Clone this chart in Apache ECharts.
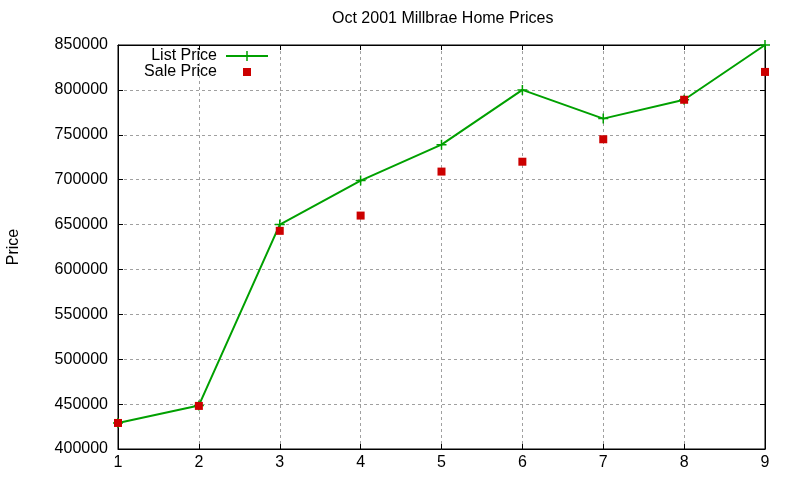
<!DOCTYPE html>
<html>
<head>
    <meta charset="utf-8">
    <title>Oct 2001 Millbrae Home Prices</title>
    <script src="https://cdn.jsdelivr.net/npm/echarts@6/dist/echarts.min.js"></script>
</head>
<body style="margin:0">
<div id="main" style="width: 800px;height:480px;"></div>
<script type="text/javascript">

    // house number 1..9, prices
    var houses = [1, 2, 3, 4, 5, 6, 7, 8, 9];
    var listPrice = [429000, 448500, 650000, 699000, 739000, 800000, 768000, 789000, 850000];
    var salePrice = [429000, 448000, 643000, 660000, 709000, 720000, 745000, 789000, 820000];

    var plusPath = 'path://M4.25,0h1.5v4.25h4.25v1.5h-4.25v4.25h-1.5v-4.25h-4.25v-1.5h4.25z';
    // legend sample: a 42px stroke with a plus in the middle
    var lineKeyPath = 'path://M0,4h42v2h-42z M20.25,0h1.5v10h-1.5z';
    var squarePath = 'path://M0,0h10v10h-10z';
    var font = 'Liberation Sans, Arial, sans-serif';

    function pairs(ys) {
        return houses.map(function (x, i) { return [x, ys[i]]; });
    }

    var gridLine = { show: true, lineStyle: { color: '#a0a0a0', type: [3, 3], width: 1 } };
    var tick = { show: true, inside: true, length: 5, lineStyle: { color: '#000' } };
    var plain = function (v) { return String(v); };

    var myChart = echarts.init(document.getElementById('main'));

    var option = {
        animation: false,
        backgroundColor: '#fff',
        title: {
            text: 'Oct 2001 Millbrae Home Prices',
            left: 332,
            top: 11,
            padding: 0,
            textStyle: { fontFamily: font, fontSize: 16, fontWeight: 'normal', color: '#000' }
        },
        legend: [
            {
                data: [{ name: 'List Price', icon: lineKeyPath }],
                right: 532, top: 48, padding: 0,
                align: 'right', itemWidth: 42, itemHeight: 10, itemGap: 0,
                textStyle: { fontFamily: font, fontSize: 16, color: '#000', padding: [0, 4, 0, 0] }
            },
            {
                data: [{ name: 'Sale Price', icon: squarePath }],
                right: 549, top: 64, padding: 0,
                align: 'right', itemWidth: 42, itemHeight: 8, itemGap: 0,
                textStyle: { fontFamily: font, fontSize: 16, color: '#000', padding: [0, 4, 0, 0] }
            }
        ],
        grid: {
            left: 118, right: 35, top: 45, bottom: 31,
            outerBoundsMode: 'none',
            show: true, borderColor: '#000', borderWidth: 1, backgroundColor: 'transparent'
        },
        xAxis: [
            {
                type: 'value', min: 1, max: 9, interval: 1, position: 'bottom',
                axisLine: { show: true, lineStyle: { color: '#000' } },
                axisTick: tick,
                axisLabel: { fontFamily: font, fontSize: 16, color: '#000', margin: 6 },
                splitLine: gridLine
            },
            {
                type: 'value', min: 1, max: 9, interval: 1, position: 'top',
                axisLine: { show: true, lineStyle: { color: '#000' } },
                axisTick: tick, axisLabel: { show: false }, splitLine: { show: false }
            }
        ],
        yAxis: [
            {
                type: 'value', min: 400000, max: 850000, interval: 50000, position: 'left',
                name: 'Price', nameLocation: 'middle', nameGap: 96, nameRotate: 90,
                nameTextStyle: { fontFamily: font, fontSize: 16, color: '#000' },
                axisLine: { show: true, lineStyle: { color: '#000' } },
                axisTick: tick,
                axisLabel: { fontFamily: font, fontSize: 16, color: '#000', margin: 10, formatter: plain },
                splitLine: gridLine
            },
            {
                type: 'value', min: 400000, max: 850000, interval: 50000, position: 'right',
                axisLine: { show: true, lineStyle: { color: '#000' } },
                axisTick: tick, axisLabel: { show: false }, splitLine: { show: false }
            }
        ],
        series: [
            {
                name: 'List Price',
                type: 'line',
                data: pairs(listPrice),
                symbol: plusPath,
                symbolSize: 10,
                showAllSymbol: true,
                color: '#00a000',
                lineStyle: { color: '#00a000', width: 2 },
                itemStyle: { color: '#00a000' },
                z: 2
            },
            {
                name: 'Sale Price',
                type: 'scatter',
                data: pairs(salePrice),
                symbol: 'rect',
                symbolSize: 8,
                itemStyle: { color: '#cc0000', opacity: 1 },
                z: 3
            }
        ]
    };

    myChart.setOption(option);

</script>
</body>
</html>
